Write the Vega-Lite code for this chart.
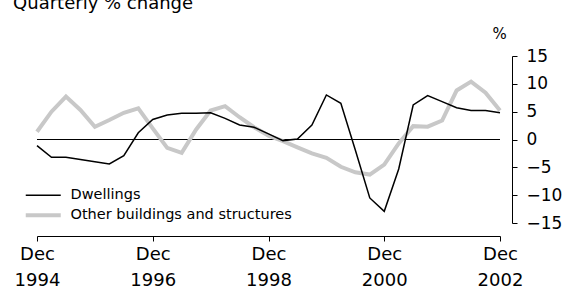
{
  "$schema": "https://vega.github.io/schema/vega-lite/v6.json",
  "autosize": "none",
  "padding": {"left": 37, "top": 56, "right": 62, "bottom": 66},
  "width": 463,
  "height": 167,
  "title": {
    "text": "Quarterly % change",
    "anchor": "start",
    "font": "DejaVu Sans",
    "fontSize": 18,
    "fontWeight": "normal",
    "color": "#000000",
    "dx": -1,
    "offset": 13
  },
  "config": {
    "view": {"stroke": null},
    "axis": {"grid": false, "domainColor": "#000000", "tickColor": "#000000", "labelColor": "#000000", "titleColor": "#000000", "domainWidth": 1, "tickWidth": 1}
  },
  "data": {
    "values": [
      {"quarter": "Dec 1994", "series": "Dwellings", "value": -1.1},
      {"quarter": "Mar 1995", "series": "Dwellings", "value": -3.2},
      {"quarter": "Jun 1995", "series": "Dwellings", "value": -3.2},
      {"quarter": "Sep 1995", "series": "Dwellings", "value": -3.6},
      {"quarter": "Dec 1995", "series": "Dwellings", "value": -4.0},
      {"quarter": "Mar 1996", "series": "Dwellings", "value": -4.4},
      {"quarter": "Jun 1996", "series": "Dwellings", "value": -2.9},
      {"quarter": "Sep 1996", "series": "Dwellings", "value": 1.2},
      {"quarter": "Dec 1996", "series": "Dwellings", "value": 3.6},
      {"quarter": "Mar 1997", "series": "Dwellings", "value": 4.4},
      {"quarter": "Jun 1997", "series": "Dwellings", "value": 4.7},
      {"quarter": "Sep 1997", "series": "Dwellings", "value": 4.7},
      {"quarter": "Dec 1997", "series": "Dwellings", "value": 4.8},
      {"quarter": "Mar 1998", "series": "Dwellings", "value": 3.8},
      {"quarter": "Jun 1998", "series": "Dwellings", "value": 2.6},
      {"quarter": "Sep 1998", "series": "Dwellings", "value": 2.2},
      {"quarter": "Dec 1998", "series": "Dwellings", "value": 1.0},
      {"quarter": "Mar 1999", "series": "Dwellings", "value": -0.2},
      {"quarter": "Jun 1999", "series": "Dwellings", "value": 0.1},
      {"quarter": "Sep 1999", "series": "Dwellings", "value": 2.6},
      {"quarter": "Dec 1999", "series": "Dwellings", "value": 8.0},
      {"quarter": "Mar 2000", "series": "Dwellings", "value": 6.5},
      {"quarter": "Jun 2000", "series": "Dwellings", "value": -1.9},
      {"quarter": "Sep 2000", "series": "Dwellings", "value": -10.5},
      {"quarter": "Dec 2000", "series": "Dwellings", "value": -12.9},
      {"quarter": "Mar 2001", "series": "Dwellings", "value": -5.3},
      {"quarter": "Jun 2001", "series": "Dwellings", "value": 6.2},
      {"quarter": "Sep 2001", "series": "Dwellings", "value": 7.9},
      {"quarter": "Dec 2001", "series": "Dwellings", "value": 6.8},
      {"quarter": "Mar 2002", "series": "Dwellings", "value": 5.7},
      {"quarter": "Jun 2002", "series": "Dwellings", "value": 5.2},
      {"quarter": "Sep 2002", "series": "Dwellings", "value": 5.2},
      {"quarter": "Dec 2002", "series": "Dwellings", "value": 4.8},
      {"quarter": "Dec 1994", "series": "Other buildings and structures", "value": 1.4},
      {"quarter": "Mar 1995", "series": "Other buildings and structures", "value": 5.0},
      {"quarter": "Jun 1995", "series": "Other buildings and structures", "value": 7.7},
      {"quarter": "Sep 1995", "series": "Other buildings and structures", "value": 5.3},
      {"quarter": "Dec 1995", "series": "Other buildings and structures", "value": 2.3},
      {"quarter": "Mar 1996", "series": "Other buildings and structures", "value": 3.5},
      {"quarter": "Jun 1996", "series": "Other buildings and structures", "value": 4.8},
      {"quarter": "Sep 1996", "series": "Other buildings and structures", "value": 5.6},
      {"quarter": "Dec 1996", "series": "Other buildings and structures", "value": 2.0},
      {"quarter": "Mar 1997", "series": "Other buildings and structures", "value": -1.5},
      {"quarter": "Jun 1997", "series": "Other buildings and structures", "value": -2.4},
      {"quarter": "Sep 1997", "series": "Other buildings and structures", "value": 1.8},
      {"quarter": "Dec 1997", "series": "Other buildings and structures", "value": 5.2},
      {"quarter": "Mar 1998", "series": "Other buildings and structures", "value": 6.0},
      {"quarter": "Jun 1998", "series": "Other buildings and structures", "value": 4.0},
      {"quarter": "Sep 1998", "series": "Other buildings and structures", "value": 2.2},
      {"quarter": "Dec 1998", "series": "Other buildings and structures", "value": 0.7},
      {"quarter": "Mar 1999", "series": "Other buildings and structures", "value": -0.3},
      {"quarter": "Jun 1999", "series": "Other buildings and structures", "value": -1.4},
      {"quarter": "Sep 1999", "series": "Other buildings and structures", "value": -2.5},
      {"quarter": "Dec 1999", "series": "Other buildings and structures", "value": -3.3},
      {"quarter": "Mar 2000", "series": "Other buildings and structures", "value": -4.9},
      {"quarter": "Jun 2000", "series": "Other buildings and structures", "value": -5.9},
      {"quarter": "Sep 2000", "series": "Other buildings and structures", "value": -6.3},
      {"quarter": "Dec 2000", "series": "Other buildings and structures", "value": -4.5},
      {"quarter": "Mar 2001", "series": "Other buildings and structures", "value": -0.7},
      {"quarter": "Jun 2001", "series": "Other buildings and structures", "value": 2.4},
      {"quarter": "Sep 2001", "series": "Other buildings and structures", "value": 2.3},
      {"quarter": "Dec 2001", "series": "Other buildings and structures", "value": 3.4},
      {"quarter": "Mar 2002", "series": "Other buildings and structures", "value": 8.8},
      {"quarter": "Jun 2002", "series": "Other buildings and structures", "value": 10.4},
      {"quarter": "Sep 2002", "series": "Other buildings and structures", "value": 8.4},
      {"quarter": "Dec 2002", "series": "Other buildings and structures", "value": 5.2}
    ]
  },
  "encoding": {
    "x": {
      "field": "quarter",
      "type": "ordinal",
      "sort": null,
      "scale": {"type": "point", "padding": 0},
      "axis": {
        "values": ["Dec 1994", "Dec 1996", "Dec 1998", "Dec 2000", "Dec 2002"],
        "labelExpr": "split(datum.value, ' ')",
        "title": null,
        "labelAngle": 0,
        "offset": 13,
        "tickSize": 5,
        "labelFont": "DejaVu Sans",
        "labelFontSize": 18,
        "labelLineHeight": 26,
        "labelPadding": 4
      }
    },
    "y": {
      "field": "value",
      "type": "quantitative",
      "scale": {"domain": [-15, 15], "nice": false, "zero": false},
      "axis": {
        "orient": "right",
        "values": [-15, -10, -5, 0, 5, 10, 15],
        "offset": 12,
        "tickSize": 5,
        "labelFont": "DejaVu Sans",
        "labelFontSize": 17,
        "labelPadding": 9,
        "title": "%",
        "titleAngle": 0,
        "titleX": -13,
        "titleY": -18,
        "titleAlign": "center",
        "titleBaseline": "alphabetic",
        "titleFont": "DejaVu Sans",
        "titleFontSize": 15,
        "titleFontWeight": "normal"
      }
    }
  },
  "layer": [
    {
      "data": {"values": [{"zero": 0}]},
      "mark": {"type": "rule", "color": "#000000", "strokeWidth": 1.2},
      "encoding": {"y": {"field": "zero", "type": "quantitative"}, "x": null}
    },
    {
      "transform": [{"filter": "datum.series === 'Other buildings and structures'"}],
      "mark": {"type": "line", "strokeJoin": "miter"},
      "encoding": {
        "color": {"field": "series", "type": "nominal", "scale": {"domain": ["Dwellings", "Other buildings and structures"], "range": ["#000000", "#c8c8c8"]}, "legend": {"orient": "none", "legendX": -1, "legendY": 132, "title": null, "symbolType": "M-17.5,0L17.5,0", "symbolSize": 4, "labelFont": "DejaVu Sans", "labelFontSize": 14.5, "labelColor": "#000000", "labelOffset": 20, "labelLimit": 0, "rowPadding": 5}},
        "strokeWidth": {"field": "series", "type": "nominal", "scale": {"domain": ["Dwellings", "Other buildings and structures"], "range": [1.5, 4]}, "legend": {"orient": "none", "legendX": -1, "legendY": 132, "title": null, "symbolType": "M-17.5,0L17.5,0", "symbolSize": 4, "labelFont": "DejaVu Sans", "labelFontSize": 14.5, "labelColor": "#000000", "labelOffset": 20, "labelLimit": 0, "rowPadding": 5}}
      }
    },
    {
      "transform": [{"filter": "datum.series === 'Dwellings'"}],
      "mark": {"type": "line", "strokeJoin": "miter"},
      "encoding": {
        "color": {"field": "series", "type": "nominal"},
        "strokeWidth": {"field": "series", "type": "nominal"}
      }
    }
  ]
}
